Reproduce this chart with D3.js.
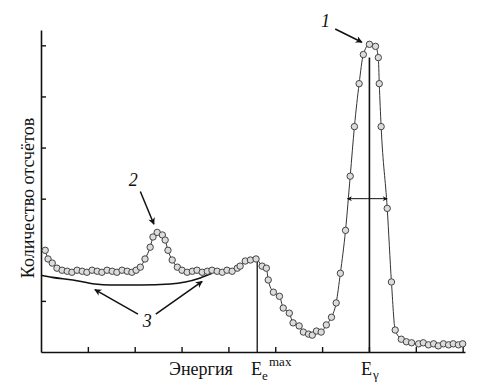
<!DOCTYPE html>
<html>
<head>
<meta charset="utf-8">
<script src="https://cdn.jsdelivr.net/npm/d3@7/dist/d3.min.js"></script>
<style>
  html, body { margin: 0; padding: 0; background: #fff; }
  svg { display: block; }
  .serif { font-family: "Liberation Serif", "DejaVu Serif", "Noto Serif", FreeSerif, Tinos, "Times New Roman", Times, serif; }
</style>
</head>
<body>
<svg id="chart" width="480" height="392"></svg>
<script>
// ---- data (energy in tick units, counts in arbitrary tick units) ----
const energy = [0.09,0.15,0.24,0.34,0.45,0.56,0.66,0.77,0.88,0.98,1.09,1.20,1.30,1.41,1.52,1.62,1.73,1.84,1.94,2.03,
  2.12,2.22,2.33,2.39,2.48,2.59,2.65,2.71,2.80,2.91,3.01,3.12,3.23,3.33,3.44,3.55,3.65,3.76,3.87,3.97,
  4.08,4.19,4.25,4.36,4.47,4.59,4.72,4.81,4.85,4.96,5.09,5.17,5.30,5.38,5.51,5.60,5.71,5.79,5.88,5.98,
  6.09,6.20,6.30,6.39,6.50,6.60,6.69,6.79,6.88,7.01,7.14,7.20,7.22,7.26,7.39,7.48,7.56,7.69,7.80,7.91,
  8.06,8.16,8.27,8.38,8.48,8.59,8.70,8.80,8.91,9.00];
const counts = [1.99,1.82,1.74,1.64,1.60,1.58,1.56,1.60,1.58,1.56,1.60,1.58,1.56,1.60,1.58,1.56,1.60,1.58,1.56,1.60,
  1.66,1.82,2.05,2.25,2.34,2.29,2.19,1.99,1.80,1.66,1.60,1.56,1.58,1.60,1.56,1.58,1.60,1.58,1.56,1.60,
  1.58,1.64,1.68,1.78,1.80,1.82,1.68,1.64,1.41,1.17,1.09,0.86,0.76,0.57,0.51,0.39,0.35,0.33,0.41,0.39,
  0.53,0.68,0.96,1.54,2.38,3.44,4.41,5.25,5.82,6.02,5.98,5.76,5.25,4.41,2.81,1.37,0.43,0.25,0.20,0.18,
  0.16,0.18,0.14,0.16,0.12,0.16,0.14,0.16,0.14,0.16];
// background curve (3)
const bgEnergy = [0, 0.24, 0.68, 1.15, 1.47, 2.12, 2.76, 3.08, 3.40, 3.65];
const bgCounts = [1.50, 1.46, 1.41, 1.33, 1.31, 1.31, 1.33, 1.37, 1.45, 1.54];
// axis ticks
const xTicks = [1,2,3,4,5,6,7,8,9];
const yTicks = [1,2,3,4,5,6];
// markers
const eMaxE = 4.615, eMaxTop = 1.80;
const eGammaE = 7.01, eGammaTop = 5.76;
const fwhmLevel = 3.0, fwhmLeft = 6.54, fwhmRight = 7.39;
const yLabel = "Количество отсчётов";
const xLabel = "Энергия";

const svg = d3.select("#chart");
const x = d3.scaleLinear().domain([0, 9.05]).range([41, 465]);
const y = d3.scaleLinear().domain([0, 6.3]).range([352, 30]);

// defs: arrow marker
const defs = svg.append("defs");
defs.append("marker").attr("id", "arr").attr("viewBox", "0 0 10 10")
  .attr("refX", 9).attr("refY", 5).attr("markerWidth", 10).attr("markerHeight", 7)
  .attr("markerUnits", "userSpaceOnUse").attr("orient", "auto-start-reverse")
  .append("path").attr("d", "M0,0 L10,5 L0,10 L3,5 Z").attr("fill", "#111");
defs.append("marker").attr("id", "arrs").attr("viewBox", "0 0 10 10")
  .attr("refX", 9).attr("refY", 5).attr("markerWidth", 7).attr("markerHeight", 5)
  .attr("markerUnits", "userSpaceOnUse").attr("orient", "auto-start-reverse")
  .append("path").attr("d", "M0,0 L10,5 L0,10 L3,5 Z").attr("fill", "#111");

// axes
const gx = svg.append("g").attr("transform", `translate(0,${y(0)})`)
  .call(d3.axisBottom(x).tickValues(xTicks).tickSizeInner(-5).tickSizeOuter(0).tickFormat(""));
const gy = svg.append("g").attr("transform", `translate(${x(0)},0)`)
  .call(d3.axisLeft(y).tickValues(yTicks).tickSizeInner(-5).tickSizeOuter(0).tickFormat(""));
[gx, gy].forEach(g => {
  g.select(".domain").attr("stroke", "#111").attr("stroke-width", 1.6);
  g.selectAll(".tick line").attr("stroke", "#111").attr("stroke-width", 1.4);
});

// background line 3
const bg = bgEnergy.map((e, i) => [e, bgCounts[i]]);
svg.append("path").datum(bg)
  .attr("d", d3.line().x(d => x(d[0])).y(d => y(d[1])).curve(d3.curveMonotoneX))
  .attr("fill", "none").attr("stroke", "#111").attr("stroke-width", 1.6);

// vertical markers
svg.append("line").attr("x1", x(eMaxE)).attr("x2", x(eMaxE)).attr("y1", y(0)).attr("y2", y(eMaxTop))
  .attr("stroke", "#111").attr("stroke-width", 1.3);
svg.append("line").attr("x1", x(eGammaE)).attr("x2", x(eGammaE)).attr("y1", y(0)).attr("y2", y(eGammaTop))
  .attr("stroke", "#111").attr("stroke-width", 1.6);

// spectrum line
const pts = energy.map((e, i) => [e, counts[i]]);
svg.append("path").datum(pts)
  .attr("d", d3.line().x(d => x(d[0])).y(d => y(d[1])).curve(d3.curveMonotoneX))
  .attr("fill", "none").attr("stroke", "#333").attr("stroke-width", 1);

// FWHM arrow
svg.append("line")
  .attr("x1", x((fwhmLeft + fwhmRight) / 2)).attr("x2", x(fwhmLeft))
  .attr("y1", y(fwhmLevel)).attr("y2", y(fwhmLevel))
  .attr("stroke", "#111").attr("stroke-width", 1).attr("marker-end", "url(#arrs)");
svg.append("line")
  .attr("x1", x((fwhmLeft + fwhmRight) / 2)).attr("x2", x(fwhmRight))
  .attr("y1", y(fwhmLevel)).attr("y2", y(fwhmLevel))
  .attr("stroke", "#111").attr("stroke-width", 1).attr("marker-end", "url(#arrs)");

// points
svg.append("g").selectAll("circle").data(pts).join("circle")
  .attr("cx", d => x(d[0])).attr("cy", d => y(d[1])).attr("r", 3.2)
  .attr("fill", "#dcdcdc").attr("stroke", "#444").attr("stroke-width", 1);

// annotations (in data units)
function arrow(e1, c1, e2, c2) {
  svg.append("line").attr("x1", x(e1)).attr("y1", y(c1)).attr("x2", x(e2)).attr("y2", y(c2))
    .attr("stroke", "#111").attr("stroke-width", 1.5).attr("marker-end", "url(#arr)");
}
function txt(s, px, py, size, anchor, italic) {
  return svg.append("text").attr("class", "serif").attr("x", px).attr("y", py)
    .attr("text-anchor", anchor || "start").attr("font-size", size)
    .attr("font-style", italic ? "italic" : "normal").attr("fill", "#111").text(s);
}
txt("1", x(6.07), y(6.36), 18, "middle", true);
arrow(6.28, 6.32, 6.85, 6.06);
txt("2", x(1.97), y(3.25), 18, "middle", true);
arrow(2.12, 3.14, 2.41, 2.50);
txt("3", x(2.27), y(0.48), 18, "middle", true);
arrow(2.07, 0.74, 1.15, 1.22);
arrow(2.45, 0.74, 3.44, 1.38);

// axis labels
svg.append("text").attr("class", "serif").attr("transform", `translate(34,198) rotate(-90)`)
  .attr("fill", "#111").attr("text-anchor", "middle").attr("font-size", 18).text(yLabel);
txt(xLabel, 201, 375, 18, "middle", false);
txt("E", 251, 375, 18, "start", false);
txt("e", 262, 380, 13, "start", false);
txt("max", 269, 366, 13, "start", false);
txt("E", 361, 375, 18, "start", false);
txt("γ", 373, 379, 13, "start", false);
</script>
</body>
</html>
